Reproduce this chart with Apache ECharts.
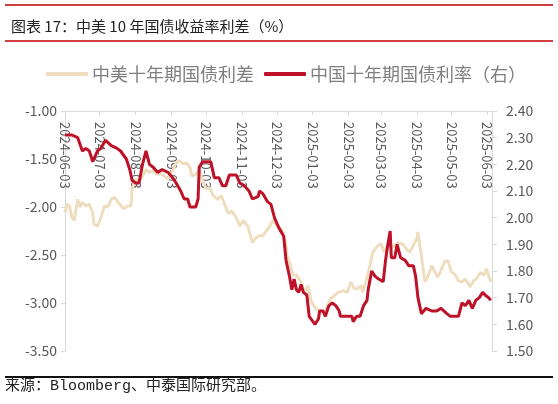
<!DOCTYPE html>
<html>
<head>
<meta charset="utf-8">
<script src="https://cdn.jsdelivr.net/npm/echarts@6/dist/echarts.min.js"></script>
<style>
html,body{margin:0;padding:0;background:#fff;}
#c{width:558px;height:404px;}
</style>
</head>
<body>
<div id="c"></div>
<script>
// Tick labels (top date axis)
const tickDates = ['2024-06-03','2024-07-03','2024-08-03','2024-09-03','2024-10-03','2024-11-03','2024-12-03','2025-01-03','2025-02-03','2025-03-03','2025-04-03','2025-05-03','2025-06-03'];

// China–US 10Y spread (left axis, %)
const spreadDates = ['2024-06-03','2024-06-05','2024-06-07','2024-06-09','2024-06-11','2024-06-14','2024-06-16','2024-06-18','2024-06-21','2024-06-24','2024-06-27','2024-06-28','2024-07-01','2024-07-04','2024-07-07','2024-07-10','2024-07-13','2024-07-16','2024-07-20','2024-07-24','2024-07-27','2024-07-30','2024-07-31','2024-08-03','2024-08-06','2024-08-09','2024-08-12','2024-08-15','2024-08-18','2024-08-22','2024-08-26','2024-08-31','2024-09-04','2024-09-07','2024-09-10','2024-09-13','2024-09-16','2024-09-19','2024-09-21','2024-09-24','2024-09-27','2024-09-30','2024-10-03','2024-10-06','2024-10-09','2024-10-13','2024-10-16','2024-10-19','2024-10-22','2024-10-25','2024-10-29','2024-11-01','2024-11-04','2024-11-08','2024-11-12','2024-11-15','2024-11-18','2024-11-21','2024-11-24','2024-11-27','2024-11-30','2024-12-02','2024-12-07','2024-12-08','2024-12-11','2024-12-12','2024-12-15','2024-12-17','2024-12-20','2024-12-24','2024-12-27','2024-12-30','2025-01-02','2025-01-06','2025-01-09','2025-01-12','2025-01-15','2025-01-18','2025-01-22','2025-01-25','2025-01-29','2025-02-02','2025-02-05','2025-02-08','2025-02-11','2025-02-14','2025-02-15','2025-02-18','2025-02-21','2025-02-24','2025-02-27','2025-03-03','2025-03-06','2025-03-09','2025-03-13','2025-03-18','2025-03-22','2025-03-25','2025-03-28','2025-03-31','2025-04-03','2025-04-04','2025-04-07','2025-04-10','2025-04-13','2025-04-16','2025-04-18','2025-04-21','2025-04-24','2025-04-27','2025-04-30','2025-05-03','2025-05-06','2025-05-09','2025-05-12','2025-05-15','2025-05-19','2025-05-22','2025-05-25','2025-05-28','2025-05-31','2025-06-02','2025-06-06'];
const spreadValues = [-2.06,-1.97,-1.99,-2.11,-2.14,-1.92,-2.00,-1.95,-1.99,-1.97,-2.06,-2.18,-2.20,-2.11,-1.99,-2.00,-1.92,-1.90,-1.97,-2.02,-1.99,-1.99,-1.81,-1.71,-1.74,-1.68,-1.61,-1.64,-1.62,-1.66,-1.66,-1.71,-1.62,-1.54,-1.52,-1.55,-1.54,-1.59,-1.68,-1.66,-1.61,-1.73,-1.81,-1.80,-1.88,-1.92,-1.88,-1.97,-2.07,-2.04,-2.11,-2.20,-2.14,-2.20,-2.37,-2.32,-2.30,-2.30,-2.25,-2.20,-2.13,-2.18,-2.23,-2.26,-2.40,-2.51,-2.61,-2.71,-2.71,-2.78,-2.89,-2.82,-2.99,-3.06,-3.08,-3.09,-3.06,-2.96,-2.92,-2.89,-2.87,-2.89,-2.78,-2.85,-2.85,-2.82,-2.89,-2.78,-2.64,-2.47,-2.42,-2.38,-2.47,-2.40,-2.42,-2.37,-2.39,-2.44,-2.47,-2.40,-2.33,-2.26,-2.51,-2.78,-2.71,-2.61,-2.66,-2.73,-2.66,-2.57,-2.56,-2.68,-2.70,-2.77,-2.78,-2.75,-2.83,-2.77,-2.74,-2.68,-2.71,-2.64,-2.78];

// China 10Y government bond yield (right axis, %)
const cnDates = ['2024-06-03','2024-06-09','2024-06-14','2024-06-18','2024-06-21','2024-06-24','2024-06-27','2024-07-01','2024-07-04','2024-07-08','2024-07-13','2024-07-18','2024-07-21','2024-07-26','2024-07-29','2024-07-31','2024-08-03','2024-08-06','2024-08-09','2024-08-12','2024-08-15','2024-08-18','2024-08-22','2024-08-26','2024-08-31','2024-09-04','2024-09-07','2024-09-11','2024-09-14','2024-09-17','2024-09-19','2024-09-24','2024-09-26','2024-09-27','2024-09-30','2024-10-07','2024-10-10','2024-10-14','2024-10-17','2024-10-20','2024-10-23','2024-10-29','2024-11-01','2024-11-05','2024-11-09','2024-11-12','2024-11-17','2024-11-18','2024-11-21','2024-11-25','2024-11-28','2024-12-01','2024-12-05','2024-12-09','2024-12-11','2024-12-14','2024-12-16','2024-12-18','2024-12-20','2024-12-22','2024-12-24','2024-12-26','2024-12-29','2024-12-31','2025-01-05','2025-01-08','2025-01-09','2025-01-12','2025-01-14','2025-01-17','2025-01-20','2025-01-23','2025-01-26','2025-01-27','2025-02-06','2025-02-07','2025-02-10','2025-02-13','2025-02-16','2025-02-19','2025-02-20','2025-02-23','2025-02-26','2025-03-01','2025-03-05','2025-03-07','2025-03-09','2025-03-11','2025-03-12','2025-03-15','2025-03-17','2025-03-20','2025-03-24','2025-03-27','2025-03-31','2025-04-02','2025-04-04','2025-04-07','2025-04-11','2025-04-16','2025-04-20','2025-04-24','2025-04-29','2025-05-02','2025-05-09','2025-05-12','2025-05-15','2025-05-18','2025-05-21','2025-05-24','2025-05-27','2025-05-30','2025-06-01','2025-06-04','2025-06-06'];
const cnValues = [2.31,2.31,2.30,2.25,2.26,2.25,2.21,2.25,2.26,2.29,2.27,2.26,2.25,2.22,2.18,2.14,2.13,2.13,2.20,2.25,2.20,2.19,2.17,2.18,2.17,2.15,2.13,2.10,2.07,2.07,2.04,2.04,2.07,2.19,2.21,2.21,2.15,2.15,2.12,2.12,2.16,2.16,2.13,2.12,2.10,2.07,2.08,2.10,2.09,2.06,2.05,2.00,1.96,1.93,1.84,1.78,1.73,1.77,1.73,1.72,1.75,1.72,1.71,1.63,1.60,1.62,1.65,1.65,1.63,1.67,1.68,1.67,1.65,1.63,1.63,1.61,1.63,1.63,1.67,1.69,1.73,1.80,1.78,1.77,1.76,1.84,1.90,1.95,1.85,1.85,1.90,1.85,1.84,1.82,1.82,1.78,1.70,1.64,1.66,1.65,1.65,1.66,1.64,1.63,1.63,1.68,1.67,1.69,1.66,1.69,1.70,1.72,1.71,1.70,1.69];

const leftTicks = [-1.0,-1.5,-2.0,-2.5,-3.0,-3.5];
const rightTicks = [2.4,2.3,2.2,2.1,2.0,1.9,1.8,1.7,1.6,1.5];

function ts(s){const p=s.split('-').map(Number);return Date.UTC(p[0],p[1]-1,p[2]);}
const tickTs = tickDates.map(ts);
const tickLabelOf = {};
tickDates.forEach(d=>{tickLabelOf[ts(d)]=d;});

const chart = echarts.init(document.getElementById('c'), null, {renderer:'canvas'});
const FONT = '"Noto Sans CJK SC","Noto Sans",sans-serif';
chart.setOption({
  animation:false,
  backgroundColor:'#fff',
  title:{text:'图表 17：中美 10 年国债收益率利差（%）',left:6,top:14,
    textStyle:{fontSize:15,fontWeight:'normal',color:'#222',fontFamily:FONT}},
  graphic:[
    {type:'line',shape:{x1:5,y1:5,x2:553,y2:5},style:{stroke:'#C00000',lineWidth:1.5}},
    {type:'line',shape:{x1:5,y1:41,x2:553,y2:41},style:{stroke:'#C00000',lineWidth:1.5}},
    {type:'line',shape:{x1:5,y1:377,x2:553,y2:377},style:{stroke:'#111',lineWidth:2}},
    {type:'text',left:5,top:379,style:{text:'来源：Bloomberg、中泰国际研究部。',fontSize:15,fill:'#222',
      fontFamily:'"Liberation Mono","Noto Sans CJK SC",monospace'}}
  ],
  legend:{top:60,left:41,itemWidth:42,itemHeight:4,itemGap:10,icon:'roundRect',
    textStyle:{fontSize:18,color:'#7F7F7F',fontFamily:FONT,padding:[0,0,0,-1]},
    data:['中美十年期国债利差','中国十年期国债利率（右）']},
  grid:{left:65,right:66,top:111,bottom:53,containLabel:false},
  xAxis:{type:'value',position:'top',min:ts('2024-06-03'),max:ts('2025-06-07'),
    axisLine:{show:true,lineStyle:{color:'#D9D9D9',width:1}},
    axisTick:{show:true,inside:true,length:4,customValues:tickTs,lineStyle:{color:'#D9D9D9'}},
    axisLabel:{show:true,inside:true,rotate:90,customValues:tickTs,fontSize:13,color:'#595959',fontFamily:FONT,margin:11,
      formatter:function(v){return tickLabelOf[v]||'';}},
    splitLine:{show:false}},
  yAxis:[
    {type:'value',min:-3.5,max:-1.0,interval:0.5,position:'left',
     axisLine:{show:true,lineStyle:{color:'#D9D9D9'}},
     axisTick:{show:true,length:4,lineStyle:{color:'#D9D9D9'}},
     axisLabel:{fontSize:14,color:'#595959',fontFamily:FONT,margin:8,formatter:v=>v.toFixed(2)},
     splitLine:{show:false}},
    {type:'value',min:1.5,max:2.4,interval:0.1,position:'right',
     axisLine:{show:true,lineStyle:{color:'#D9D9D9'}},
     axisTick:{show:true,length:5,lineStyle:{color:'#D9D9D9'}},
     axisLabel:{fontSize:14,color:'#595959',fontFamily:FONT,margin:14,formatter:v=>v.toFixed(2)},
     splitLine:{show:false}}
  ],
  series:[
    {name:'中美十年期国债利差',type:'line',yAxisIndex:0,showSymbol:false,symbol:'none',
     lineStyle:{color:'#EFDDBF',width:3},itemStyle:{color:'#EFDDBF'},
     data:spreadDates.map((d,i)=>[ts(d),spreadValues[i]])},
    {name:'中国十年期国债利率（右）',type:'line',yAxisIndex:1,showSymbol:false,symbol:'none',
     lineStyle:{color:'#BE1229',width:3},itemStyle:{color:'#BE1229'},
     data:cnDates.map((d,i)=>[ts(d),cnValues[i]])}
  ]
});
</script>
</body>
</html>
